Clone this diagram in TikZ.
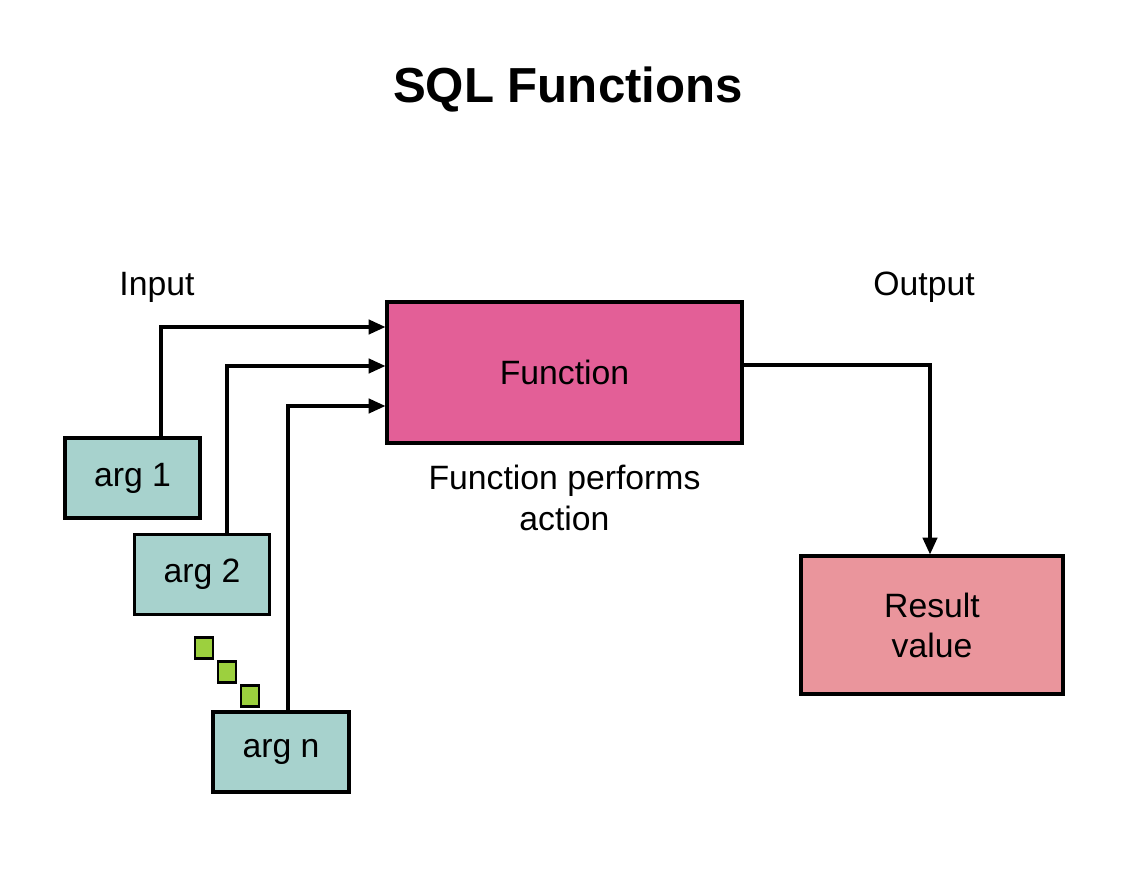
\documentclass[tikz,border=0pt]{standalone}
\usepackage{fontspec}
\setmainfont{Liberation Sans}
\usetikzlibrary{positioning}
\usetikzlibrary{arrows.meta}
\definecolor{funcpink}{RGB}{227,95,151}
\definecolor{argteal}{RGB}{167,210,205}
\definecolor{resultpink}{RGB}{234,149,156}
\definecolor{dotgreen}{RGB}{156,208,62}
\tikzset{
    % Common look for every box in the picture
    box/.style={draw, line width=2.2pt, rectangle, align=center,
        font=\fontsize{24}{28.5}\selectfont},
%
    % The small argument boxes on the left
    arg box/.style={box, fill=argteal,
        minimum width=3.375cm, minimum height=2cm},
%
    % Squares standing for the omitted arguments
    gap dot/.style={draw, line width=2pt, fill=dotgreen,
        minimum width=0.45cm, minimum height=0.53cm, inner sep=0pt},
%
    % Lines from and to the function, with a filled head
    link/.style={line width=2.2pt,
        -{Stealth[length=4.2mm, width=3.6mm, inset=0pt]}},
    plain text/.style={align=center, font=\fontsize{24}{28.5}\selectfont}}

\begin{document}
\begin{tikzpicture}

\useasboundingbox (0,0) rectangle (28.4,22.1);

\node (title) [font=\fontsize{35}{40}\selectfont\bfseries]
    at (14.2,19.85) {SQL Functions};

\node (func) [box, fill=funcpink,
        minimum width=8.875cm, minimum height=3.525cm]
    at (14.1125,12.7875) {Function};
\node (action) [plain text, below=0.4cm of func] {Function performs\\action};

\node (arg1) [arg box] at (3.3125,10.15) {arg 1};
\node (arg2) [arg box] at (5.05,7.7375) {arg 2};
\node (argn) [arg box, minimum width=3.4cm] at (7.025,3.3) {arg n};

\node (dot1) [gap dot] at (5.1,5.9) {};
\node (dot2) [gap dot] at (5.675,5.3) {};
\node (dot3) [gap dot] at (6.25,4.7) {};

\node (result) [box, fill=resultpink,
        minimum width=6.55cm, minimum height=3.45cm]
    at (23.3,6.475) {Result\\value};

\node (input) [plain text] at (3.925,14.925) {Input};
\node (output) [plain text] at (23.1,14.925) {Output};

\draw [link] ([xshift=0.7125cm]arg1.north) |- ([yshift=1.1375cm]func.west);
\draw [link] ([xshift=0.625cm]arg2.north) |- ([yshift=0.1625cm]func.west);
\draw [link] ([xshift=0.175cm]argn.north) |- ([yshift=-0.8375cm]func.west);

\draw [link] ([yshift=0.1875cm]func.east) -| ([xshift=-0.05cm]result.north);

\end{tikzpicture}
\end{document}
